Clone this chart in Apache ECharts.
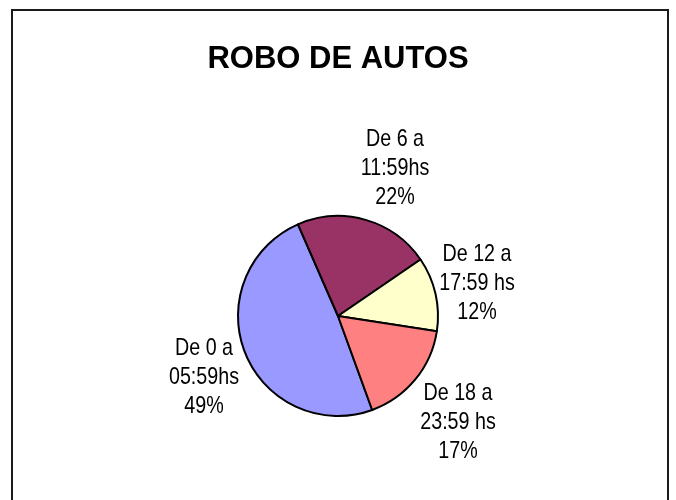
<!DOCTYPE html>
<html>
<head>
<meta charset="utf-8">
<script src="https://cdn.jsdelivr.net/npm/echarts@6/dist/echarts.min.js"></script>
<style>
  html, body { margin: 0; padding: 0; background: #fff; }
  #chart { width: 676px; height: 500px; }
</style>
</head>
<body>
<div id="chart"></div>
<script>
// Car theft share by time of day
const titleText = 'ROBO DE AUTOS';
const categories = ['De 0 a 05:59hs', 'De 6 a 11:59hs', 'De 12 a 17:59 hs', 'De 18 a 23:59 hs'];
const shares = [49, 22, 12, 17];
const sliceColors = ['#9999FF', '#993366', '#FFFFCC', '#FF8080'];

const pieCenter = [338, 316];
const pieRadius = 100;

// label block centres, relative to the pie centre
const labelOffsets = [[-134, 61], [57, -148], [139, -33], [120, 106]];

// narrow sans look: regular sans compressed horizontally
const labelFontSize = 24;
const labelSquash = 0.82;

const chart = echarts.init(document.getElementById('chart'), null, { renderer: 'canvas' });

const labelTexts = categories.map((name, i) => ({
  type: 'text',
  silent: true,
  z: 10,
  x: pieCenter[0] + labelOffsets[i][0],
  y: pieCenter[1] + labelOffsets[i][1],
  scaleX: labelSquash,
  style: {
    text: name.replace(' a ', ' a\n') + '\n' + shares[i] + '%',
    fontFamily: '"Liberation Sans", Arial, sans-serif',
    fontSize: labelFontSize,
    lineHeight: 29,
    fill: '#000000',
    textAlign: 'center',
    textVerticalAlign: 'middle'
  }
}));

chart.setOption({
  backgroundColor: '#ffffff',
  animation: false,
  title: {
    text: titleText,
    left: 'center',
    top: 39,
    textStyle: {
      fontFamily: 'Arial, "Liberation Sans", sans-serif',
      fontWeight: 'bold',
      fontSize: 31,
      color: '#000000'
    }
  },
  graphic: [{
    type: 'rect',
    silent: true,
    shape: { x: 12, y: 10, width: 656, height: 520 },
    style: { fill: 'none', stroke: '#1a1a1a', lineWidth: 2 }
  }].concat(labelTexts),
  series: [{
    type: 'pie',
    center: pieCenter,
    radius: pieRadius,
    startAngle: -70,
    clockwise: true,
    data: categories.map((name, i) => ({
      name: name,
      value: shares[i],
      itemStyle: { color: sliceColors[i] }
    })),
    itemStyle: { borderColor: '#000000', borderWidth: 2 },
    emphasis: { disabled: true },
    label: { show: false },
    labelLine: { show: false }
  }]
});
</script>
</body>
</html>
